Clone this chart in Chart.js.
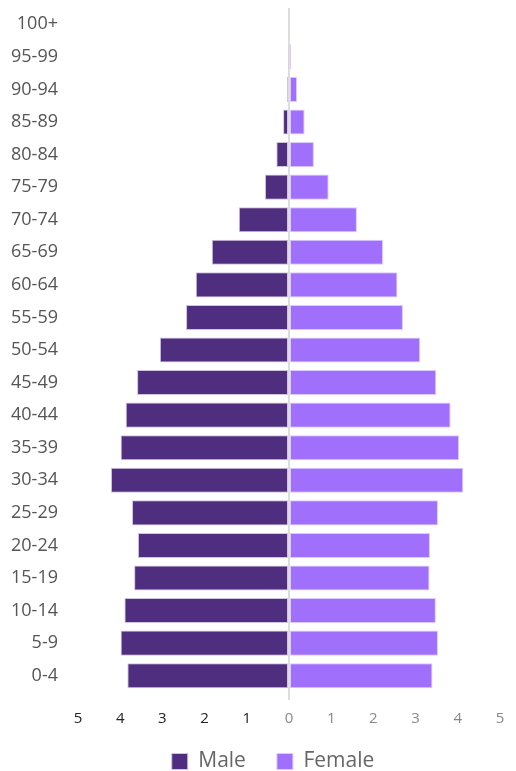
<!DOCTYPE html>
<html>
<head>
<meta charset="utf-8">
<script src="https://cdn.jsdelivr.net/npm/chart.js@4"></script>
<style>
  body { margin: 0; background: #fff; }
  #wrap { width: 516px; height: 771px; position: relative; }
</style>
</head>
<body>
<div id="wrap"><canvas id="pyramid"></canvas></div>
<script>
// age groups, oldest at top
const ageGroups = ['100+', '95-99', '90-94', '85-89', '80-84', '75-79', '70-74', '65-69', '60-64', '55-59',
  '50-54', '45-49', '40-44', '35-39', '30-34', '25-29', '20-24', '15-19', '10-14', '5-9', '0-4'];

// share of population, %
const male = [0, 0.01, 0.05, 0.14, 0.3, 0.57, 1.19, 1.83, 2.21, 2.44,
  3.06, 3.6, 3.87, 3.99, 4.22, 3.72, 3.58, 3.67, 3.9, 3.99, 3.83];
const female = [0, 0.05, 0.19, 0.37, 0.59, 0.94, 1.61, 2.23, 2.57, 2.7,
  3.11, 3.49, 3.83, 4.03, 4.13, 3.53, 3.34, 3.33, 3.48, 3.53, 3.4];

const maleColor = '#4f2d7f';
const femaleColor = '#a070fd';
const font = 'Open Sans';

// legend padding is big (wide gap between items), so pull the box back up
// and a bit right of centre like the original
const legendNudge = {
  id: 'legendNudge',
  afterLayout(chart) {
    const lg = chart.legend;
    lg.top -= 18;
    lg.bottom -= 18;
    lg.left += 23;
    lg.right += 23;
  }
};

const ctx = document.getElementById('pyramid').getContext('2d');

new Chart(ctx, {
  type: 'bar',
  data: {
    labels: ageGroups,
    datasets: [
      {
        label: 'Male',
        data: male.map(v => -v),
        backgroundColor: maleColor,
        borderColor: '#cfc3e2',
        borderWidth: 1,
        borderSkipped: false
      },
      {
        label: 'Female',
        data: female,
        backgroundColor: femaleColor,
        borderColor: '#dccbff',
        borderWidth: 1,
        borderSkipped: false
      }
    ]
  },
  options: {
    indexAxis: 'y',
    responsive: true,
    maintainAspectRatio: false,
    animation: false,
    barPercentage: 0.77,
    categoryPercentage: 1,
    layout: { padding: { top: 8, right: 16, bottom: -29, left: 0 } },
    scales: {
      x: {
        stacked: true,
        min: -5,
        max: 5,
        border: { display: false },
        grid: {
          color: c => c.tick && c.tick.value === 0 ? '#dddddd' : 'rgba(0,0,0,0)',
          lineWidth: 2,
          tickLength: 8
        },
        ticks: {
          stepSize: 1,
          padding: 10,
          font: { family: font, size: 15 },
          color: c => c.tick.value < 0 ? '#222222' : '#888888',
          callback: v => Math.abs(v)
        }
      },
      y: {
        stacked: true,
        border: { display: false },
        grid: { display: false, drawTicks: false },
        afterFit: s => {
          s.width = 78;
          s.paddingTop = 0;
          s.paddingBottom = 0;
        },
        ticks: {
          padding: 20,
          font: { family: font, size: 18 },
          color: '#555555'
        }
      }
    },
    plugins: {
      legend: {
        position: 'bottom',
        labels: {
          boxWidth: 16,
          boxHeight: 16,
          padding: 31,
          color: '#666666',
          font: { family: font, size: 21 }
        }
      },
      tooltip: { enabled: false }
    }
  },
  plugins: [legendNudge]
});
</script>
</body>
</html>
